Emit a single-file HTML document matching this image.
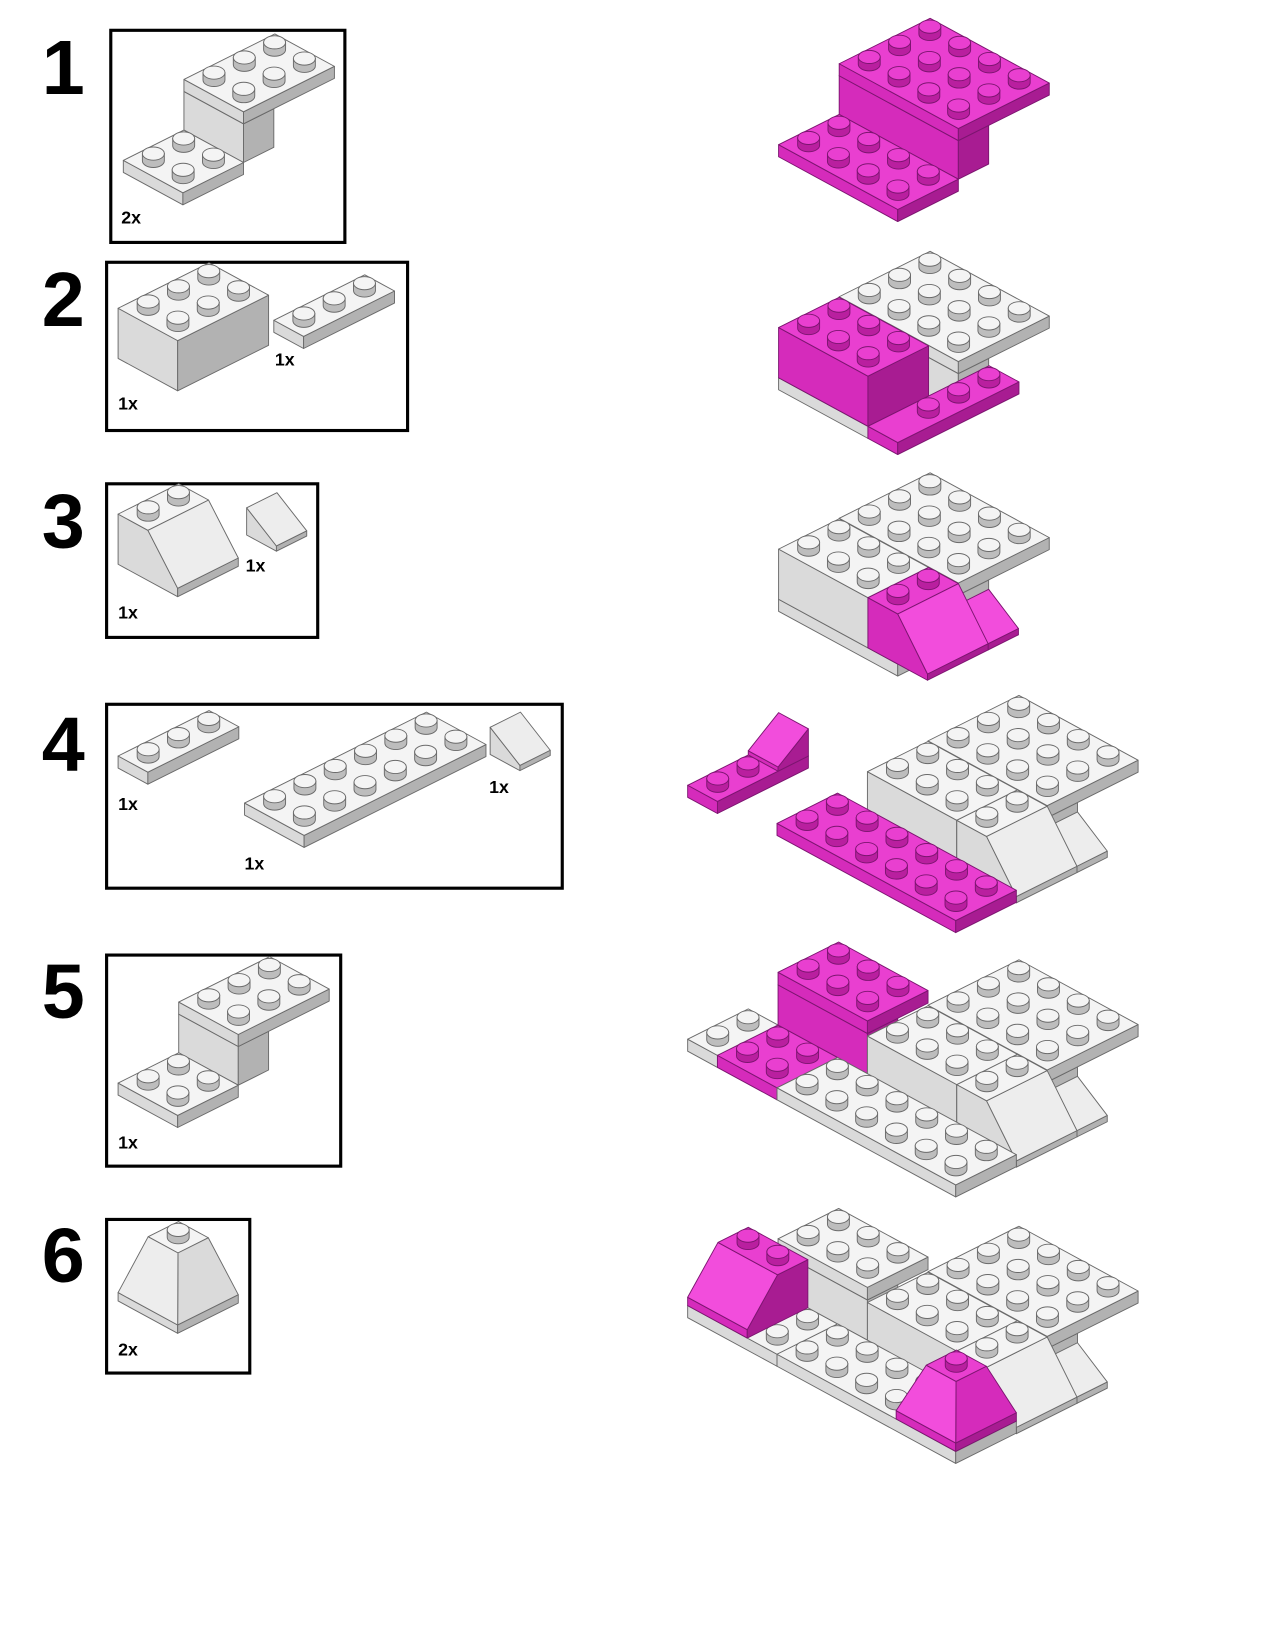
<!DOCTYPE html>
<html><head><meta charset="utf-8">
<style>
html,body{margin:0;padding:0;background:#fff;}
svg{display:block;}
text{font-family:"Liberation Sans",Arial,sans-serif;font-weight:bold;fill:#000;}
</style></head>
<body>
<svg id="s" xmlns="http://www.w3.org/2000/svg" width="1275" height="1651" viewBox="0 0 1220 1580" preserveAspectRatio="none">
<rect width="1220" height="1580" fill="#fff"/>
<g font-size="74">
<text x="40" y="90">1</text>
<text x="40" y="312">2</text>
<text x="40" y="524">3</text>
<text x="40" y="738">4</text>
<text x="40" y="974">5</text>
<text x="40" y="1227">6</text>
</g>
<g fill="none" stroke="#000" stroke-width="3">
<rect x="106" y="29" width="224" height="203"/>
<rect x="102" y="251" width="288" height="161"/>
<rect x="102" y="463" width="202" height="147"/>
<rect x="102" y="674" width="436" height="176"/>
<rect x="102" y="914" width="224" height="202"/>
<rect x="102" y="1167" width="137" height="147"/>
</g>
<g id="art"></g>
<g font-size="17">
<text x="116" y="214">2x</text>
<text x="263" y="350">1x</text>
<text x="113" y="392">1x</text>
<text x="235" y="547">1x</text>
<text x="113" y="592">1x</text>
<text x="113" y="775">1x</text>
<text x="468" y="759">1x</text>
<text x="234" y="832">1x</text>
<text x="113" y="1099">1x</text>
<text x="113" y="1297">2x</text>
</g>
</svg>
<script>
const A=[28.5,15.5],B=[29,-14.5];
const COL={m:{t:'#e93fd0',f:'#d52bbb',r:'#a81c92',s:'#7c1570',sl:'#f24ddc',st:'#b91f9f'},
           w:{t:'#f4f4f4',f:'#dadada',r:'#b2b2b2',s:'#6a6a6a',sl:'#ededed',st:'#bdbdbd'}};
let out='';
const RX=10.5,RY=6.3,SH=7;
function P(O,a,b,h){return [O[0]+a*A[0]+b*B[0],O[1]+a*A[1]+b*B[1]-h];}
function pg(pts,fill,s){out+='<polygon points="'+pts.map(p=>p[0].toFixed(1)+','+p[1].toFixed(1)).join(' ')+'" fill="'+fill+'" stroke="'+s+'" stroke-width="0.9" stroke-linejoin="round"/>';}
function stud(x,y,c){out+='<path d="M'+(x-RX)+','+y+' A'+RX+','+RY+' 0 0 0 '+(x+RX)+','+y+' L'+(x+RX)+','+(y-SH)+' L'+(x-RX)+','+(y-SH)+' Z" fill="'+c.st+'" stroke="'+c.s+'" stroke-width="0.9"/><ellipse cx="'+x+'" cy="'+(y-SH)+'" rx="'+RX+'" ry="'+RY+'" fill="'+c.t+'" stroke="'+c.s+'" stroke-width="0.9"/>';}
function studs(O,a0,b0,la,lb,h,c,sk){for(let j=lb-1;j>=0;j--)for(let i=0;i<la;i++){if(sk&&sk(i,j))continue;const p=P(O,a0+i+.5,b0+j+.5,h);stud(p[0],p[1],c);}}
function box(O,a0,b0,h0,la,lb,lh,k,st,sk){const c=COL[k],h1=h0+lh;
 pg([P(O,a0,b0,h0),P(O,a0+la,b0,h0),P(O,a0+la,b0,h1),P(O,a0,b0,h1)],c.f,c.s);
 pg([P(O,a0+la,b0,h0),P(O,a0+la,b0+lb,h0),P(O,a0+la,b0+lb,h1),P(O,a0+la,b0,h1)],c.r,c.s);
 pg([P(O,a0,b0,h1),P(O,a0+la,b0,h1),P(O,a0+la,b0+lb,h1),P(O,a0,b0+lb,h1)],c.t,c.s);
 if(st)studs(O,a0,b0,la,lb,h1,c,sk);}
function slopeA(O,a0,b0,h0,la,lb,lh,k,f,lip){const c=COL[k],h1=h0+lh,hl=h0+lip;
 pg([P(O,a0,b0,h0),P(O,a0+la,b0,h0),P(O,a0+la,b0,hl),P(O,a0+f,b0,h1),P(O,a0,b0,h1)],c.f,c.s);
 pg([P(O,a0+la,b0,h0),P(O,a0+la,b0+lb,h0),P(O,a0+la,b0+lb,hl),P(O,a0+la,b0,hl)],c.r,c.s);
 pg([P(O,a0+f,b0,h1),P(O,a0+la,b0,hl),P(O,a0+la,b0+lb,hl),P(O,a0+f,b0+lb,h1)],c.sl,c.s);
 if(f>0){pg([P(O,a0,b0,h1),P(O,a0+f,b0,h1),P(O,a0+f,b0+lb,h1),P(O,a0,b0+lb,h1)],c.t,c.s);studs(O,a0,b0,f,lb,h1,c);}}
function slopeB(O,a0,b0,h0,la,lb,lh,k,f,lip){const c=COL[k],h1=h0+lh,hl=h0+lip;
 pg([P(O,a0,b0,h0),P(O,a0+la,b0,h0),P(O,a0+la,b0,hl),P(O,a0,b0,hl)],c.f,c.s);
 pg([P(O,a0+la,b0,h0),P(O,a0+la,b0+lb,h0),P(O,a0+la,b0+lb,h1),P(O,a0+la,b0+lb-f,h1),P(O,a0+la,b0,hl)],c.r,c.s);
 pg([P(O,a0,b0,hl),P(O,a0+la,b0,hl),P(O,a0+la,b0+lb-f,h1),P(O,a0,b0+lb-f,h1)],c.sl,c.s);
 if(f>0){pg([P(O,a0,b0+lb-f,h1),P(O,a0+la,b0+lb-f,h1),P(O,a0+la,b0+lb,h1),P(O,a0,b0+lb,h1)],c.t,c.s);studs(O,a0,b0+lb-f,la,f,h1,c);}}
function pyramid(O,a0,b0,h0,la,lb,lh,k,lip){const c=COL[k],h1=h0+lh,hl=h0+lip;
 pg([P(O,a0,b0,h0),P(O,a0+la,b0,h0),P(O,a0+la,b0,hl),P(O,a0,b0,hl)],c.f,c.s);
 pg([P(O,a0+la,b0,h0),P(O,a0+la,b0+lb,h0),P(O,a0+la,b0+lb,hl),P(O,a0+la,b0,hl)],c.r,c.s);
 pg([P(O,a0+la,b0,hl),P(O,a0+la,b0+lb,hl),P(O,a0+la-.5,b0+lb-.5,h1),P(O,a0+la-.5,b0+.5,h1)],c.f,c.s);
 pg([P(O,a0,b0,hl),P(O,a0+la,b0,hl),P(O,a0+la-.5,b0+.5,h1),P(O,a0+.5,b0+.5,h1)],c.sl,c.s);
 pg([P(O,a0+.5,b0+.5,h1),P(O,a0+la-.5,b0+.5,h1),P(O,a0+la-.5,b0+lb-.5,h1),P(O,a0+.5,b0+lb-.5,h1)],c.t,c.s);
 const p=P(O,a0+la/2,b0+lb/2,h1);stud(p[0],p[1],c);}
function bracket(O,k,la){box(O,0,2,11.5,la,1,37,k);box(O,0,2,48.5,la,3,11.5,k,1);box(O,0,0,0,la,2,11.5,k,1);}
function main(O,ks){
 box(O,0,0,0,4,3,11.5,'w',0);
 box(O,0,2,11.5,4,1,37,'w');
 box(O,0,2,48.5,4,3,11.5,'w',1);
 slopeA(O,4,2,11.5,1,1,28,ks,0,6);
 box(O,0,0,11.5,3,2,48,'w',1);
 slopeA(O,3,0,11.5,2,2,48,ks,1,6);}
bracket([118,165],'w',2);
box([113,343],0,0,0,2,3,48,'w',1);
box([262,318],0,0,0,1,3,11.5,'w',1);
slopeA([113,540],0,0,0,2,2,48,'w',1,8);
slopeA([236,512],0,0,0,1,1,26,'w',0,5);
box([113,735],0,0,0,1,3,11.5,'w',1);
box([234,780],0,0,0,2,6,11.5,'w',1);
slopeA([469,722],0,0,0,1,1,26,'w',0,5);
bracket([113,1048],'w',2);
pyramid([113,1245],0,0,0,2,2,62,'w',8);
bracket([745,150],'m',4);
(function(){const O=[745,373];
 box(O,0,0,0,3,2,11.5,'w',0);
 box(O,0,2,11.5,4,1,37,'w');
 box(O,0,2,48.5,4,3,11.5,'w',1);
 box(O,0,0,11.5,3,2,48,'m',1);
 box(O,3,0,0,1,4,11.5,'m',1,(i,j)=>j==0);})();
main([745,585],'m');
(function(){const O=[830,798];main(O,'w');box(O,-1,-2,12,6,2,11.5,'m',1);
 const Q=[658,763];box(Q,0,0,0,1,3,11.5,'m',1,(i,j)=>j==2);slopeB(Q,0,2,11.5,1,1,26,'m',0,4);})();
(function(){const O=[830,1051];
 box(O,-4,-2,12,1,2,11.5,'w',1);
 box(O,-3,-2,12,2,2,11.5,'m',1);
 box(O,-3,0,23.5,3,1,38.5,'m');
 box(O,-3,0,62,3,2,12,'m',1);
 main(O,'w');
 box(O,-1,-2,12,6,2,11.5,'w',1);})();
(function(){const O=[830,1306];
 box(O,-4,-2,12,3,2,11.5,'w',1);
 box(O,-3,0,23.5,3,1,38.5,'w');
 box(O,-3,0,62,3,2,12,'w',1);
 slopeB(O,-4,-2,23.5,2,2,46,'m',1,8);
 main(O,'w');
 box(O,-1,-2,12,6,2,11.5,'w',1);
 pyramid(O,3,-2,23.5,2,2,52,'m',8);})();
document.getElementById('art').innerHTML=out;
</script>
</body></html>
